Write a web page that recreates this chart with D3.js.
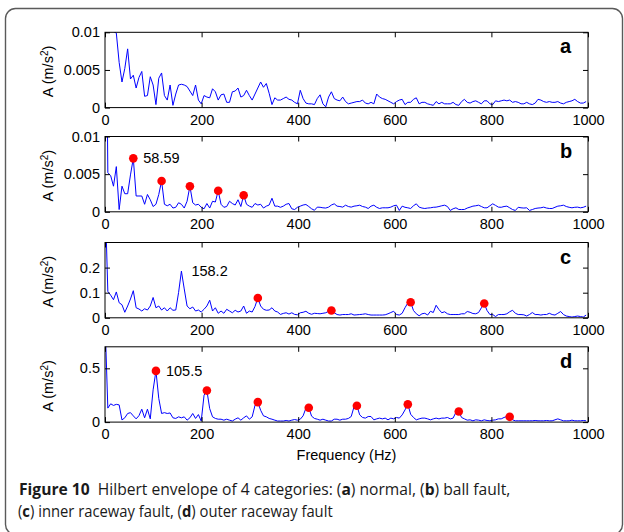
<!DOCTYPE html>
<html>
<head>
<meta charset="utf-8">
<script src="https://cdn.jsdelivr.net/npm/d3@7"></script>
<style>
  body { margin: 0; background: #fff; }
  svg { display: block; }
</style>
</head>
<body>
<svg id="chart" width="624" height="532"></svg>
<script>
// Envelope spectra: one amplitude per FFT bin (12 kHz sampling, 2048 points -> 5.859375 Hz per bin)
const binWidth = 5.859375;

const normalAmp = [
  0.035, 0.02, 0.0105, 0.0101, 0.0099, 0.006, 0.0034, 0.0052, 0.0078, 0.0038,
  0.0043, 0.0026, 0.004, 0.0048, 0.0015, 0.0016, 0.0041, 0.003, 0.0004, 0.0039,
  0.0046, 0.0016, 0.001, 0.003, 0.0003, 0.0018, 0.003, 0.0031, 0.003, 0.0028,
  0.0022, 0.0016, 0.003, 0.001, 0.0005, 0.0016, 0.0014, 0.0013, 0.0025, 0.0021,
  0.001, 0.0017, 0.0018, 0.0007, 0.0007, 0.0021, 0.0022, 0.0026, 0.0014, 0.0016,
  0.0023, 0.0016, 0.001, 0.0018, 0.0026, 0.0034, 0.0027, 0.0032, 0.0019, 0.0004,
  0.0013, 0.001, 0.001, 0.0012, 0.0014, 0.0011, 0.001, 0.0007, 0.0005, 0.0023,
  0.0012, 0.0006, 0.0005, 0.0005, 0.0004, 0.0012, 0.0017, 0.0005, 0.0001, 0.0014,
  0.0021, 0.0012, 0.001, 0.0009, 0.0014, 0.0008, 0.0005,
  0.0006, 0.0007, 0.0008, 0.0008, 0.001, 0.0006, 0.0005, 0.0007, 0.0005, 0.0018,
  0.0014, 0.0012, 0.0011, 0.0009, 0.0007, 0.0005, 0.0008, 0.001, 0.0011, 0.0004,
  0.0007, 0.0007, 0.0011, 0.0013, 0.0005, 0.0007, 0.0007, 0.0005, 0.0004, 0.0003,
  0.0008, 0.0005, 0.0007, 0.0005, 0.0005, 0.0005, 0.0007, 0.0004, 0.0003, 0.0008,
  0.0011, 0.0007, 0.0006, 0.0008, 0.0009, 0.0007, 0.0005, 0.0009, 0.0009, 0.0005,
  0.0004, 0.0009, 0.0008, 0.0009, 0.001, 0.0009, 0.001, 0.0007, 0.0008, 0.0007,
  0.0005, 0.0005, 0.0007, 0.0005, 0.0004, 0.0006, 0.0011, 0.001, 0.0008, 0.0007,
  0.0008, 0.0007, 0.0007, 0.0008, 0.0006, 0.0005, 0.0007, 0.0008, 0.0009, 0.0011,
  0.0008, 0.0006, 0.0006, 0.0008
];

const ballAmp = [
  0.05, 0.0052, 0.0048, 0.0034, 0.006, 0.0003, 0.0034, 0.0024, 0.0024, 0.0049, 0.0071,
  0.0021, 0.0021, 0.0021, 0.001, 0.0023, 0.0016, 0.0007, 0.001, 0.0023, 0.0041,
  0.001, 0.0008, 0.001, 0.0005, 0.0006, 0.0012, 0.001, 0.0005, 0.0014, 0.0034,
  0.0012, 0.0009, 0.001, 0.0006, 0.0004, 0.0011, 0.0005, 0.0014, 0.0013, 0.0028,
  0.001, 0.0006, 0.0007, 0.0014, 0.0011, 0.0009, 0.0016, 0.0007, 0.0022, 0.001,
  0.00075, 0.0006, 0.0011, 0.0009, 0.001, 0.0005, 0.00075, 0.0009, 0.0018, 0.00075,
  0.00075, 0.0006, 0.00075, 0.001, 0.0011, 0.0004, 0.0003, 0.0006,
  0.00075, 0.0009, 0.00097, 0.0007, 0.0004, 0.0002, 0.00062, 0.0006, 0.00053, 0.0005,
  0.00062, 0.0009, 0.00106, 0.00075, 0.0007, 0.00062, 0.00088, 0.0007, 0.00062, 0.00075,
  0.0008, 0.00088, 0.0007, 0.00062, 0.00044, 0.00075, 0.00088, 0.0006, 0.00044, 0.00053,
  0.00053, 0.00053, 0.00062, 0.0008, 0.00088, 0.00018, 0.00075, 0.0006, 0.00053, 0.00044,
  0.0008, 0.00106, 0.00062, 0.0005, 0.00044, 0.0005, 0.00053, 0.0006, 0.00062, 0.0007,
  0.0008, 0.00088, 0.0007, 0.00018, 0.0004, 0.00053, 0.00031, 0.0003, 0.00031, 0.0005,
  0.00062, 0.00075, 0.0008, 0.00088, 0.0007, 0.00053, 0.00053, 0.0008, 0.00106, 0.00085,
  0.00062, 0.0006, 0.0007, 0.00075, 0.00053, 0.0003, 0.00018, 0.0006, 0.00053, 0.0005,
  0.00053, 0.00018, 0.0003, 0.00044, 0.0005, 0.00053, 0.00062, 0.0005, 0.00044, 0.00044,
  0.0006, 0.00075, 0.0008, 0.00088, 0.0007, 0.0006, 0.00053, 0.0006, 0.00062, 0.00053,
  0.0006, 0.00075
];

const innerAmp = [
  0.5, 0.105, 0.09, 0.072, 0.103, 0.06, 0.052, 0.022, 0.047, 0.075,
  0.108, 0.04, 0.035, 0.027, 0.036, 0.031, 0.047, 0.081, 0.04, 0.047,
  0.031, 0.04, 0.027, 0.04, 0.03, 0.031, 0.101, 0.186, 0.115, 0.047,
  0.036, 0.043, 0.027, 0.031, 0.023, 0.034, 0.047, 0.07, 0.027, 0.04,
  0.018, 0.027, 0.018, 0.034, 0.027, 0.02, 0.03, 0.023, 0.027, 0.047,
  0.018, 0.027, 0.023, 0.045, 0.079, 0.047, 0.034, 0.03, 0.031, 0.04,
  0.027, 0.023, 0.0135, 0.0175, 0.02, 0.015, 0.02, 0.0135, 0.012, 0.02,
  0.022, 0.026, 0.018, 0.014, 0.018, 0.017, 0.016, 0.018, 0.02, 0.026,
  0.029, 0.02, 0.013, 0.011, 0.013, 0.013, 0.013, 0.016, 0.011, 0.012,
  0.013, 0.014, 0.016, 0.013, 0.011, 0.011, 0.011, 0.011, 0.011, 0.012,
  0.016, 0.021, 0.026, 0.013, 0.011, 0.018, 0.04, 0.059, 0.062, 0.029,
  0.016, 0.008, 0.016, 0.018, 0.011, 0.026, 0.021, 0.05, 0.033, 0.02,
  0.024, 0.016, 0.013, 0.013, 0.013, 0.013, 0.016, 0.016, 0.025, 0.022,
  0.017, 0.016, 0.021, 0.04, 0.057, 0.029, 0.013, 0.013, 0.005, 0.013,
  0.013, 0.013, 0.016, 0.024, 0.03, 0.018, 0.013, 0.013, 0.012, 0.007,
  0.013, 0.021, 0.013, 0.013, 0.011, 0.013, 0.013, 0.018, 0.013, 0.011,
  0.018, 0.025, 0.013, 0.007, 0.005, 0.003, 0.005, 0.007, 0.005, 0.003,
  0.011
];

const outerAmp = [
  0.95, 0.13, 0.17, 0.155, 0.165, 0.16, 0.02, 0.04, 0.08, 0.088,
  0.058, 0.03, 0.06, 0.12, 0.04, 0.12, 0.03, 0.3, 0.476, 0.22,
  0.08, 0.088, 0.08, 0.085, 0.04, 0.034, 0.049, 0.04, 0.049, 0.018,
  0.04, 0.08, 0.034, 0.07, 0.01, 0.25, 0.293, 0.125, 0.049, 0.034,
  0.027, 0.027, 0.018, 0.027, 0.018, 0.01, 0.027, 0.04, 0.018, 0.04,
  0.058, 0.027, 0.049, 0.155, 0.186, 0.11, 0.058, 0.049, 0.034, 0.027,
  0.018, 0.01, 0.01, 0.01, 0.015, 0.01, 0.018, 0.024, 0.018, 0.027,
  0.058, 0.13, 0.134, 0.055, 0.034, 0.027, 0.018, 0.027, 0.018, 0.01,
  0.01, 0.027, 0.027, 0.018, 0.027, 0.027, 0.034, 0.052, 0.143, 0.152,
  0.067, 0.043, 0.037, 0.052, 0.052, 0.021, 0.03, 0.037, 0.03, 0.037,
  0.021, 0.037, 0.03, 0.043, 0.037, 0.067, 0.113, 0.165, 0.073, 0.043,
  0.021, 0.03, 0.037, 0.037, 0.03, 0.021, 0.03, 0.037, 0.03, 0.037,
  0.037, 0.043, 0.03, 0.037, 0.091, 0.098, 0.043, 0.03, 0.018, 0.021,
  0.012, 0.021, 0.018, 0.012, 0.021, 0.015, 0.012, 0.018, 0.021, 0.03,
  0.03, 0.043, 0.052, 0.049, 0.021, 0.012, 0.012, 0.012, 0.012, 0.012,
  0.012, 0.012, 0.015, 0.012, 0.012, 0.012, 0.015, 0.012, 0.012, 0.021,
  0.03, 0.021, 0.012, 0.012, 0.012, 0.018, 0.012, 0.012, 0.012, 0.015,
  0.012
];

// Fault-characteristic peaks (red dots)
const ballPeakFreq = [58.59, 117.19, 175.78, 234.38, 287.11];
const ballPeakAmp = [0.0071, 0.0041, 0.0034, 0.0028, 0.0022];
const innerPeakFreq = [316.41, 468.75, 632.81, 785.16];
const innerPeakAmp = [0.079, 0.029, 0.062, 0.057];
const outerPeakFreq = [105.5, 210.94, 316.41, 421.88, 521.48, 626.95, 732.42, 837.89];
const outerPeakAmp = [0.476, 0.293, 0.186, 0.134, 0.152, 0.165, 0.098, 0.049];

// Annotated fundamental per panel (null = none)
const noteFreq = [null, 58.59, 158.2, 105.5];
const noteAmp = [null, 0.0071, 0.186, 0.476];

const panelLetters = ["a", "b", "c", "d"];
const yMax = [0.01, 0.01, 0.3, 0.7];
const yTicks = [[0, 0.005, 0.01], [0, 0.005, 0.01], [0, 0.1, 0.2], [0, 0.5]];
const yTickLabels = [["0", "0.005", "0.01"], ["0", "0.005", "0.01"], ["0", "0.1", "0.2"], ["0", "0.5"]];
const xTicks = [0, 200, 400, 600, 800, 1000];
const xTickLabels = ["0", "200", "400", "600", "800", "1000"];

const series = [normalAmp, ballAmp, innerAmp, outerAmp];
const peakFreqs = [[], ballPeakFreq, innerPeakFreq, outerPeakFreq];
const peakAmps = [[], ballPeakAmp, innerPeakAmp, outerPeakAmp];

// ---- layout ----
const svg = d3.select("#chart");
const axisFont = "'Liberation Sans', Arial, Helvetica, sans-serif";
const fs = 14.5;
const left = 105, right = 588;
const tops = [32.3, 136.5, 242.5, 346.8];
const ph = 75.3;

// outer figure frame
svg.append("rect")
  .attr("x", 5.5).attr("y", 8.5).attr("width", 617).attr("height", 526)
  .attr("rx", 10).attr("ry", 10)
  .attr("fill", "none").attr("stroke", "#5a5a5a").attr("stroke-width", 1.4);

const x = d3.scaleLinear().domain([0, 1000]).range([left, right]);

series.forEach((amps, k) => {
  const top = tops[k], bottom = top + ph;
  const y = d3.scaleLinear().domain([0, yMax[k]]).range([bottom, top]);
  const g = svg.append("g");
  const pts = amps.map((a, i) => ({ f: i * binWidth, a }));

  g.append("clipPath").attr("id", "clip" + k)
    .append("rect").attr("x", left).attr("y", top).attr("width", right - left).attr("height", ph);

  g.append("path")
    .datum(pts)
    .attr("clip-path", `url(#clip${k})`)
    .attr("fill", "none").attr("stroke", "#0000ff").attr("stroke-width", 1)
    .attr("stroke-linejoin", "round")
    .attr("d", d3.line().x(d => x(d.f)).y(d => y(d.a)));

  // axes: ticks inward on all four sides
  const styleAxis = sel => {
    sel.select(".domain").remove();
    sel.selectAll("text").attr("font-family", axisFont).attr("font-size", fs).attr("fill", "#000");
    sel.selectAll("line").attr("stroke", "#000");
    sel.attr("font-family", null).attr("font-size", null);
  };
  g.append("g").attr("transform", `translate(0,${bottom})`)
    .call(d3.axisBottom(x).tickValues(xTicks).tickSize(-5).tickPadding(7)
      .tickFormat((d, i) => xTickLabels[i]))
    .call(styleAxis);
  g.append("g").attr("transform", `translate(0,${top})`)
    .call(d3.axisTop(x).tickValues(xTicks).tickSize(-5).tickFormat(""))
    .call(styleAxis);
  g.append("g").attr("transform", `translate(${left},0)`)
    .call(d3.axisLeft(y).tickValues(yTicks[k]).tickSize(-5).tickPadding(5)
      .tickFormat((d, i) => yTickLabels[k][i]))
    .call(styleAxis);
  g.append("g").attr("transform", `translate(${right},0)`)
    .call(d3.axisRight(y).tickValues(yTicks[k]).tickSize(-5).tickFormat(""))
    .call(styleAxis);

  g.append("rect")
    .attr("x", left).attr("y", top).attr("width", right - left).attr("height", ph)
    .attr("fill", "none").attr("stroke", "#000").attr("stroke-width", 1);

  // fault peaks
  g.selectAll("circle.peak")
    .data(peakFreqs[k].map((f, i) => ({ f, a: peakAmps[k][i] })))
    .join("circle").attr("class", "peak")
    .attr("cx", d => x(d.f)).attr("cy", d => y(d.a)).attr("r", 4.3)
    .attr("fill", "#ff0000");

  if (noteFreq[k] !== null) {
    g.append("text")
      .attr("x", x(noteFreq[k]) + 10).attr("y", y(noteAmp[k]))
      .attr("dy", "0.35em")
      .attr("font-family", axisFont).attr("font-size", fs)
      .text(String(noteFreq[k]));
  }

  // panel letter
  g.append("text")
    .attr("x", 560).attr("y", top + 21)
    .attr("font-family", axisFont).attr("font-size", 20).attr("font-weight", "bold")
    .text(panelLetters[k]);

  // y label
  const yl = g.append("text")
    .attr("transform", `translate(53,${(top + bottom) / 2 + 1.5}) rotate(-90)`)
    .attr("text-anchor", "middle")
    .attr("font-family", axisFont).attr("font-size", fs);
  yl.append("tspan").text("A (m/s");
  yl.append("tspan").attr("dy", -5).attr("font-size", 10).text("2");
  yl.append("tspan").attr("dy", 5).text(")");
});

// x axis title
svg.append("text")
  .attr("x", (left + right) / 2).attr("y", 460)
  .attr("text-anchor", "middle")
  .attr("font-family", axisFont).attr("font-size", fs)
  .text("Frequency (Hz)");

// caption, two lines
const capFont = "'Open Sans', 'Noto Sans', sans-serif";
const captionLines = [
  { x: 19, y: 495, width: 492, parts: [
    ["Figure 10", true], ["\u00a0\u00a0Hilbert envelope of 4 categories: (", false], ["a", true],
    [") normal, (", false], ["b", true], [") ball fault,", false]] },
  { x: 18, y: 517, width: 315, parts: [
    ["(", false], ["c", true], [") inner raceway fault, (", false], ["d", true],
    [") outer raceway fault", false]] }
];
captionLines.forEach(line => {
  const t = svg.append("text")
    .attr("font-family", capFont).attr("font-size", 16).attr("fill", "#1a1a1a");
  line.parts.forEach(([s, bold]) => {
    t.append("tspan").attr("font-weight", bold ? "bold" : "normal").text(s);
  });
  // narrow the line horizontally to its column width
  const len = t.node().getComputedTextLength();
  const sx = len > line.width ? line.width / len : 1;
  t.attr("transform", `translate(${line.x},${line.y}) scale(${sx},1)`);
});
</script>
</body>
</html>
